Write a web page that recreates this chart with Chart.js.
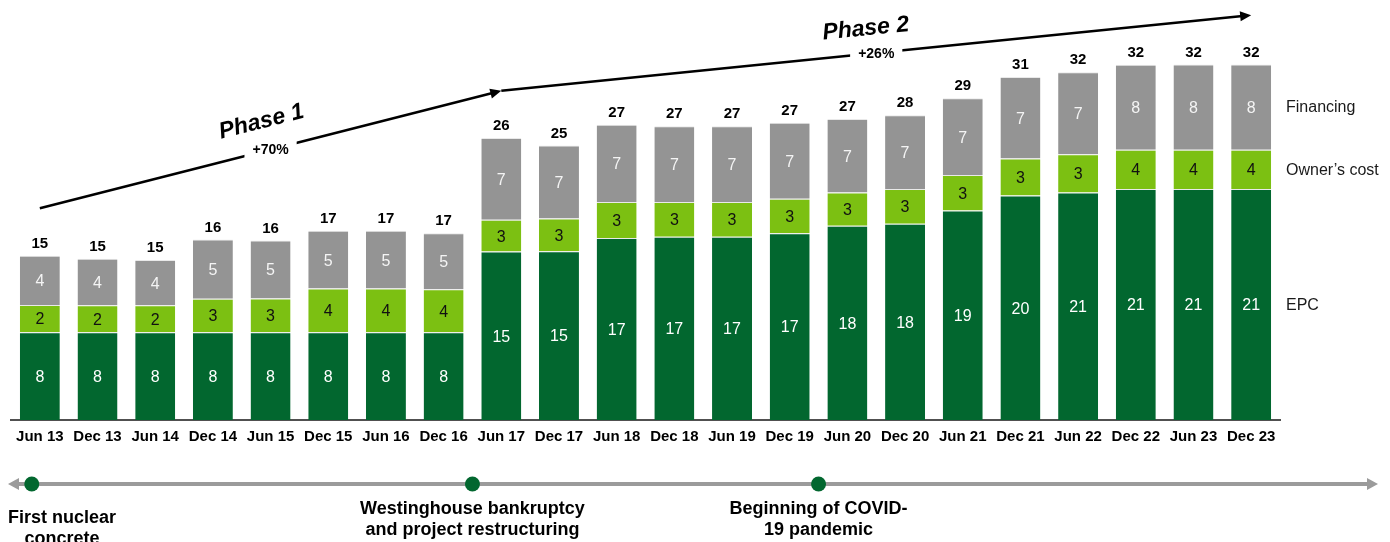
<!DOCTYPE html>
<html>
<head>
<meta charset="utf-8">
<script src="https://cdn.jsdelivr.net/npm/chart.js@4.4.0/dist/chart.umd.min.js"></script>
<style>
  html, body { margin: 0; padding: 0; background: #fff; }
  canvas { display: block; }
</style>
</head>
<body>
<canvas id="costChart" width="1390" height="542"></canvas>
<script>
// Vogtle 3&4 cost estimate by period ($bn)
var periods = ['Jun 13', 'Dec 13', 'Jun 14', 'Dec 14', 'Jun 15', 'Dec 15', 'Jun 16', 'Dec 16',
               'Jun 17', 'Dec 17', 'Jun 18', 'Dec 18', 'Jun 19', 'Dec 19', 'Jun 20', 'Dec 20',
               'Jun 21', 'Dec 21', 'Jun 22', 'Dec 22', 'Jun 23', 'Dec 23'];
var epcCost = [8.00, 8.00, 8.00, 8.00, 8.00, 8.00, 8.00, 8.00, 15.35, 15.39, 16.58,
               16.70, 16.70, 17.03, 17.70, 17.88, 19.10, 20.45, 20.74, 21.05, 21.05, 21.05];
var ownersCost = [2.49, 2.45, 2.45, 3.05, 3.07, 3.98, 3.98, 3.92, 2.90, 2.97, 3.28,
                  3.17, 3.17, 3.13, 3.04, 3.17, 3.23, 3.38, 3.47, 3.59, 3.59, 3.59];
var financing = [4.47, 4.25, 4.13, 5.40, 5.29, 5.26, 5.26, 5.11, 7.45, 6.66, 7.05,
                 6.90, 6.90, 6.93, 6.70, 6.72, 6.99, 7.42, 7.48, 7.73, 7.76, 7.76];

// trend arrows: [category index, value]
var phasePath = [[0, 19.3], [8, 30.0], [21, 36.9]];
var phaseNames = ['Phase 1', 'Phase 2'];
var phaseGrowth = ['+70%', '+26%'];

// timeline events, positioned on the category axis
var eventPos = [-0.14, 7.5, 13.5];
var eventText = [['First nuclear', 'concrete'],
                 ['Westinghouse bankruptcy', 'and project restructuring'],
                 ['Beginning of COVID-', '19 pandemic']];

var FONT = '"Liberation Sans", Arial, sans-serif';
var DARK_GREEN = '#02672f';
var LIGHT_GREEN = '#7cc012';
var GREY = '#949494';
var segTextColor = ['#ffffff', '#111111', '#f4f4f4'];

function total(j) {
    return epcCost[j] + ownersCost[j] + financing[j];
}

// numbers inside the segments, totals on top, series names at the right
const barText = {
    id: 'barText',
    afterDatasetsDraw(chart) {
        const ctx = chart.ctx;
        ctx.save();
        ctx.textAlign = 'center';
        ctx.textBaseline = 'middle';
        chart.data.datasets.forEach(function(ds, i) {
            const meta = chart.getDatasetMeta(i);
            ctx.font = '16px ' + FONT;
            ctx.fillStyle = segTextColor[i];
            meta.data.forEach(function(bar, j) {
                const p = bar.getProps(['x', 'y', 'base'], true);
                ctx.fillText(Math.round(ds.data[j]).toString(), p.x, (p.y + p.base) / 2 + 1.5);
            });
        });
        //总数
        const topMeta = chart.getDatasetMeta(2);
        ctx.font = 'bold 15px ' + FONT;
        ctx.fillStyle = '#000';
        topMeta.data.forEach(function(bar, j) {
            ctx.fillText(Math.round(total(j)).toString(), bar.x, bar.y - 12);
        });
        //右侧系列名
        ctx.textAlign = 'left';
        ctx.font = '16px ' + FONT;
        ctx.fillStyle = '#1a1a1a';
        chart.data.datasets.forEach(function(ds, i) {
            const meta = chart.getDatasetMeta(i);
            const last = meta.data[meta.data.length - 1];
            const p = last.getProps(['y', 'base'], true);
            ctx.fillText(ds.label, chart.chartArea.right + 6, (p.y + p.base) / 2 + 1);
        });
        ctx.restore();
    }
};

function arrowHead(ctx, x, y, ang, len, half) {
    ctx.beginPath();
    ctx.moveTo(x, y);
    ctx.lineTo(x - len * Math.cos(ang) + half * Math.sin(ang), y - len * Math.sin(ang) - half * Math.cos(ang));
    ctx.lineTo(x - len * Math.cos(ang) - half * Math.sin(ang), y - len * Math.sin(ang) + half * Math.cos(ang));
    ctx.closePath();
    ctx.fill();
}

// phase trend arrows above the bars
const phaseArrows = {
    id: 'phaseArrows',
    afterDraw(chart) {
        const ctx = chart.ctx;
        const xs = chart.scales.x, ys = chart.scales.y;
        const pts = phasePath.map(function(p) {
            return { x: xs.getPixelForValue(p[0]), y: ys.getPixelForValue(p[1]) };
        });
        ctx.save();
        ctx.strokeStyle = '#000';
        ctx.fillStyle = '#000';
        ctx.lineWidth = 2.5;
        for (let i = 0; i < pts.length - 1; i++) {
            const a = pts[i], b = pts[i + 1];
            const ang = Math.atan2(b.y - a.y, b.x - a.x);
            ctx.beginPath();
            ctx.moveTo(a.x, a.y);
            ctx.lineTo(b.x - 6 * Math.cos(ang), b.y - 6 * Math.sin(ang));
            ctx.stroke();
            arrowHead(ctx, b.x, b.y, ang, 11, 5);

            const mx = (a.x + b.x) / 2, my = (a.y + b.y) / 2;
            // growth label sits in a gap of the line
            ctx.font = 'bold 14px ' + FONT;
            const w = ctx.measureText(phaseGrowth[i]).width;
            ctx.fillStyle = '#fff';
            ctx.fillRect(mx - w / 2 - 8, my - 9, w + 16, 18);
            ctx.fillStyle = '#000';
            ctx.textAlign = 'center';
            ctx.textBaseline = 'middle';
            ctx.fillText(phaseGrowth[i], mx, my + 1);

            // phase name, tilted with the line
            const nx = Math.sin(ang), ny = -Math.cos(ang);
            const off = i === 0 ? 29 : 25;
            const along = i === 0 ? -2 : -8;
            ctx.save();
            ctx.translate(mx + nx * off + Math.cos(ang) * along, my + ny * off + Math.sin(ang) * along);
            ctx.rotate(ang);
            ctx.font = 'italic bold 23px ' + FONT;
            ctx.fillText(phaseNames[i], 0, 0);
            ctx.restore();
        }
        ctx.restore();
    }
};

// milestone timeline under the axis
const timeline = {
    id: 'timeline',
    afterDraw(chart) {
        const ctx = chart.ctx;
        const xs = chart.scales.x;
        const y = chart.chartArea.bottom + 64;
        const left = 8, right = chart.width - 12;
        ctx.save();
        ctx.strokeStyle = '#9b9b9b';
        ctx.fillStyle = '#9b9b9b';
        ctx.lineWidth = 4;
        ctx.beginPath();
        ctx.moveTo(left + 8, y);
        ctx.lineTo(right - 8, y);
        ctx.stroke();
        arrowHead(ctx, left, y, Math.PI, 11, 6);
        arrowHead(ctx, right, y, 0, 11, 6);

        const textTop = [34, 25, 25];
        ctx.textBaseline = 'middle';
        ctx.textAlign = 'center';
        eventPos.forEach(function(pos, i) {
            const x = xs.getPixelForValue(pos);
            ctx.fillStyle = DARK_GREEN;
            ctx.beginPath();
            ctx.arc(x, y, 7.5, 0, Math.PI * 2);
            ctx.fill();

            ctx.font = 'bold 18px ' + FONT;
            ctx.fillStyle = '#000';
            let widest = 0;
            eventText[i].forEach(function(s) { widest = Math.max(widest, ctx.measureText(s).width); });
            const cx = Math.max(x, left + widest / 2);
            eventText[i].forEach(function(s, k) {
                ctx.fillText(s, cx, y + textTop[i] + k * 21);
            });
        });
        ctx.restore();
    }
};

function initChart() {
    const el = document.getElementById('costChart');
    const data = {
        labels: periods,
        datasets: [{
            label: 'EPC',
            data: epcCost,
            backgroundColor: DARK_GREEN,
        }, {
            label: 'Owner\u2019s cost',
            data: ownersCost,
            backgroundColor: LIGHT_GREEN,
        }, {
            label: 'Financing',
            data: financing,
            backgroundColor: GREY,
        }]
    };
    data.datasets.forEach(function(ds) {
        ds.borderColor = '#e9e9e9';
        ds.borderWidth = { top: 1, left: 0, right: 0, bottom: 0 };
        ds.borderSkipped = false;
        ds.barPercentage = 0.693;
        ds.categoryPercentage = 1;
    });
    const config = {
        type: 'bar',
        data: data,
        options: {
            responsive: false,
            animation: false,
            layout: { padding: { top: 25, left: 11, right: 110, bottom: 88 } },
            plugins: {
                legend: { display: false },
                tooltip: { enabled: false }
            },
            scales: {
                x: {
                    stacked: true,
                    grid: { display: false, drawTicks: false },
                    border: { display: true, color: '#505050', width: 2 },
                    ticks: {
                        color: '#000',
                        padding: 8,
                        maxRotation: 0,
                        autoSkip: false,
                        font: { family: FONT, size: 15, weight: 'bold' }
                    }
                },
                y: {
                    stacked: true,
                    display: false,
                    min: 0,
                    max: 36
                }
            }
        },
        plugins: [barText, phaseArrows, timeline]
    };
    return new Chart(el, config);
}

initChart();
</script>
</body>
</html>
